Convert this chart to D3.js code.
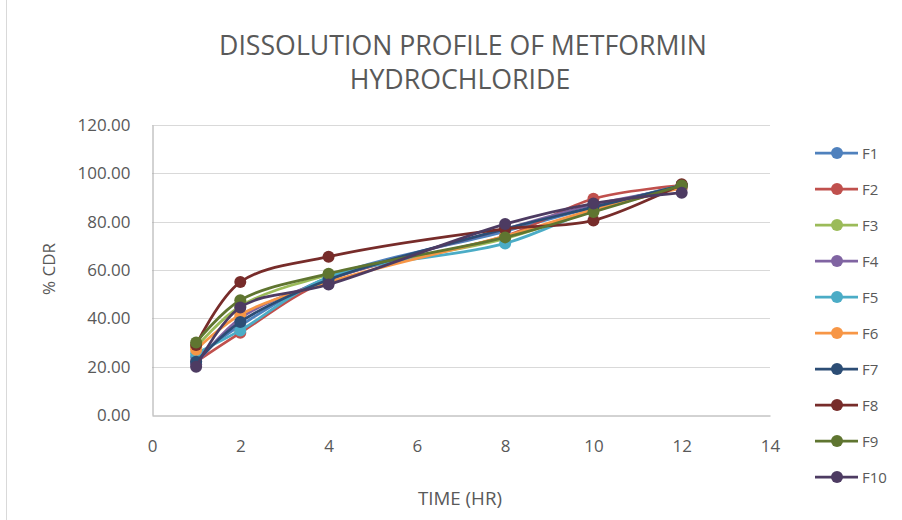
<!DOCTYPE html>
<html><head><meta charset="utf-8">
<script src="https://cdn.jsdelivr.net/npm/d3@7/dist/d3.min.js"></script>
<style>body{margin:0;background:#fff;} svg{display:block;}</style>
</head><body>
<svg id="c" width="902" height="520"></svg>
<script>
const times = [1, 2, 4, 8, 10, 12];
const seriesNames = ["F1","F2","F3","F4","F5","F6","F7","F8","F9","F10"];
const F1 = [24, 37, 57, 76, 86, 95];
const F2 = [22, 34, 56, 74, 89.5, 95];
const F3 = [28, 45, 58, 73, 85, 95];
const F4 = [21, 40, 56, 77, 87, 94];
const F5 = [25.5, 35, 57, 71, 85, 95];
const F6 = [27, 41.5, 55, 74, 85, 94];
const F7 = [22, 38.5, 56, 77, 86, 95];
const F8 = [29, 55, 65.5, 77, 80.5, 95.5];
const F9 = [30, 47.5, 58.5, 73.5, 84, 95];
const F10 = [20, 44.5, 54, 79, 87.5, 92];
const seriesValues = [F1,F2,F3,F4,F5,F6,F7,F8,F9,F10];
const colors = ["#4F81BD","#C0504D","#9BBB59","#8064A2","#4BACC6","#F79646","#2C4D75","#772C2A","#5F7530","#4D3B62"];
const xTicks = [0,2,4,6,8,10,12,14];
const yTicks = [0,20,40,60,80,100,120];

const svg = d3.select("#c");
const font = "Open Sans, Liberation Sans, sans-serif";
const textCol = "#595959";

function fitSize(sel, base, target){
  sel.style("font-size", base+"px");
  const w = sel.node().getComputedTextLength();
  const s = base*target/w;
  return s;
}

svg.append("line").attr("x1",6.5).attr("x2",6.5).attr("y1",0).attr("y2",520).attr("stroke","#D9D9D9");

const x = d3.scaleLinear().domain([0,14]).range([152,770]);
const y = d3.scaleLinear().domain([0,120]).range([415,125]);

// gridlines
svg.append("g").selectAll("line").data(yTicks.filter(d=>d>0)).join("line")
  .attr("x1",x(0)).attr("x2",x(14)).attr("y1",d=>Math.round(y(d))+0.5).attr("y2",d=>Math.round(y(d))+0.5)
  .attr("stroke","#D9D9D9").attr("stroke-width",1);

// measure tick font size
const probe = svg.append("text").style("font-family",font).text("120.00");
const tickSize = fitSize(probe, 13, 53);
probe.remove();

// axes
const yAxis = d3.axisLeft(y).tickValues(yTicks).tickFormat(d3.format(".2f")).tickSize(0).tickPadding(22);
const gy = svg.append("g").attr("transform",`translate(${x(0)+0.5},0)`).call(yAxis);
gy.select(".domain").attr("stroke","#A6A6A6");
gy.selectAll("text").attr("fill",textCol).style("font-family",font).style("font-size",tickSize+"px");

const xAxis = d3.axisBottom(x).tickValues(xTicks).tickFormat(d3.format("d")).tickSize(0).tickPadding(24);
const gx = svg.append("g").attr("transform",`translate(0,${Math.round(y(0))+0.5})`).call(xAxis);
gx.select(".domain").attr("stroke","#A6A6A6");
gx.selectAll("text").attr("fill",textCol).style("font-family",font).style("font-size",tickSize+"px");

// lines
const line = d3.line().x((d,i)=>x(times[i])).y(d=>y(d)).curve(d3.curveCatmullRom.alpha(0.5));
seriesValues.forEach((vals,si)=>{
  const g = svg.append("g");
  g.append("path").attr("d",line(vals)).attr("fill","none").attr("stroke",colors[si]).attr("stroke-width",2.75);
  g.selectAll("circle").data(vals).join("circle")
    .attr("cx",(d,i)=>x(times[i])).attr("cy",d=>y(d)).attr("r",6).attr("fill",colors[si]);
});

// title
const t1 = svg.append("text").attr("x",463).attr("y",55).attr("text-anchor","middle")
  .attr("fill",textCol).style("font-family",font).text("DISSOLUTION PROFILE OF METFORMIN");
const tsz = fitSize(t1, 22, 488);
t1.style("font-size", tsz+"px");
svg.append("text").attr("x",460).attr("y",89).attr("text-anchor","middle")
  .attr("fill",textCol).style("font-family",font).style("font-size",tsz+"px").text("HYDROCHLORIDE");

// axis titles
const ytl = svg.append("text").attr("transform","translate(55,269) rotate(-90)").attr("text-anchor","middle")
  .attr("fill",textCol).style("font-family",font).text("% CDR");
ytl.style("font-size", fitSize(ytl, 13, 52)+"px");
const xtl = svg.append("text").attr("x",460).attr("y",505).attr("text-anchor","middle")
  .attr("fill",textCol).style("font-family",font).text("TIME (HR)");
xtl.style("font-size", fitSize(xtl, 13, 84)+"px");

// legend
const leg = svg.append("g");
seriesNames.forEach((n,i)=>{
  const ly = 153 + i*36;
  leg.append("line").attr("x1",815).attr("x2",858).attr("y1",ly).attr("y2",ly).attr("stroke",colors[i]).attr("stroke-width",2.75);
  leg.append("circle").attr("cx",837).attr("cy",ly).attr("r",6).attr("fill",colors[i]);
  leg.append("text").attr("x",862).attr("y",ly+5.5).attr("fill",textCol).style("font-family",font).style("font-size","15px").text(n);
});
</script>
</body></html>
